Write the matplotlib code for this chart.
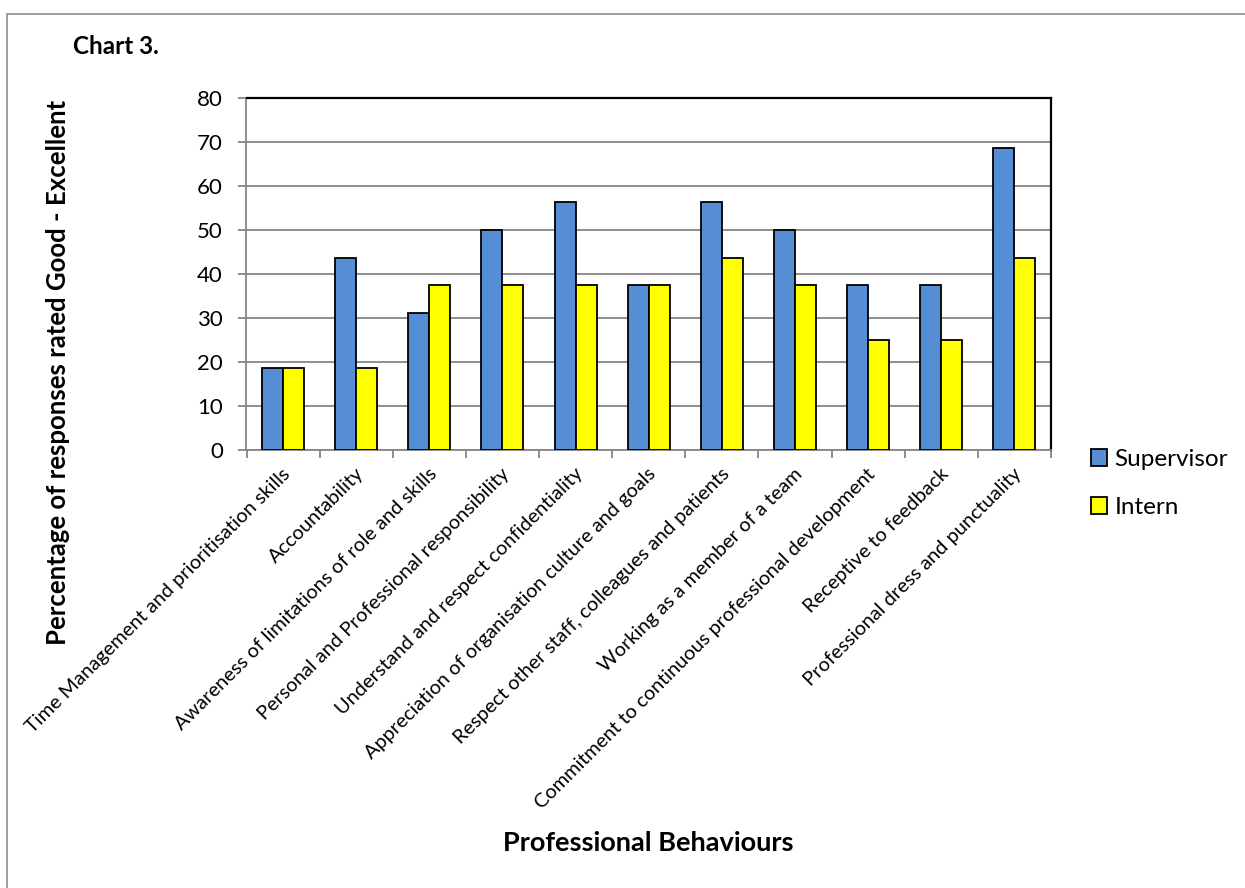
import matplotlib
matplotlib.use("Agg")
import matplotlib.pyplot as plt
import numpy as np
from matplotlib.patches import Rectangle

plt.rcParams['font.family'] = ['Lato', 'DejaVu Sans']

categories = [
    "Time Management and prioritisation skills",
    "Accountability",
    "Awareness of limitations of role and skills",
    "Personal and Professional responsibility",
    "Understand and respect confidentiality",
    "Appreciation of organisation culture and goals",
    "Respect other staff, colleagues and patients",
    "Working as a member of a team",
    "Commitment to continuous professional development",
    "Receptive to feedback",
    "Professional dress and punctuality",
]
supervisor = [18.75, 43.75, 31.25, 50, 56.25, 37.5, 56.25, 50, 37.5, 37.5, 68.75]
intern = [18.75, 18.75, 37.5, 37.5, 37.5, 37.5, 43.75, 37.5, 25, 25, 43.75]
yticks = [0, 10, 20, 30, 40, 50, 60, 70, 80]

W, H = 1245, 888
fig = plt.figure(figsize=(W / 100, H / 100), dpi=100)

# outer chart frame
fig.patches.append(Rectangle((7 / W, -0.1), 1.2, 1 - 14 / H + 0.1,
                             transform=fig.transFigure, fill=False,
                             edgecolor="#8c8c8c", linewidth=1.2))

ax = fig.add_axes([246.5 / W, 1 - 450 / H, (1051 - 246.5) / W, (450 - 98) / H])

x = np.arange(len(categories))
w = 0.287
ax.bar(x - w / 2, supervisor, w, color="#558ed5", edgecolor="black",
       linewidth=1.3, label="Supervisor", zorder=3)
ax.bar(x + w / 2, intern, w, color="#ffff00", edgecolor="black",
       linewidth=1.3, label="Intern", zorder=3)

ax.set_xlim(-0.5, len(categories) - 0.5)
ax.set_ylim(0, 80)
ax.set_yticks(yticks)
ax.set_yticklabels([str(t) for t in yticks], fontsize=16)
ax.yaxis.grid(True, color="#868686", linewidth=1.3, zorder=0)
ax.set_axisbelow(True)

ax.set_xticks(np.arange(len(categories) + 1) - 0.5)
ax.set_xticklabels([])
ax.tick_params(axis="x", length=5.5, color="#868686", width=1.3)
ax.tick_params(axis="y", length=6, color="#868686", width=1.3, pad=11)

for s in ["left", "bottom"]:
    ax.spines[s].set_color("#868686")
    ax.spines[s].set_linewidth(1.3)
for s in ["top", "right"]:
    ax.spines[s].set_color("black")
    ax.spines[s].set_linewidth(1.6)

# rotated category labels under each group
for i, c in enumerate(categories):
    ax.annotate(c, xy=(i, 0), xycoords=("data", "axes fraction"),
                xytext=(-1, -11), textcoords="offset points",
                rotation=45, ha="right", va="top", fontsize=14.4,
                rotation_mode="anchor")

fig.text(58 / W, 1 - 372 / H, "Percentage of responses rated Good - Excellent",
         rotation=90, ha="center", va="center", fontsize=18.5,
         fontweight="bold")
fig.text(648 / W, 1 - 843 / H, "Professional Behaviours", ha="center",
         va="center", fontsize=19.5, fontweight="bold")
fig.text(73 / W, 1 - 47 / H, "Chart 3.", ha="left", va="center",
         fontsize=17.5, fontweight="bold")

ax.legend(loc="upper left", bbox_to_anchor=(1091 / W, 1 - 449 / H),
          bbox_transform=fig.transFigure, frameon=False, fontsize=17.5,
          handlelength=0.66, handleheight=0.66, handletextpad=0.3,
          labelspacing=1.12, borderpad=0, borderaxespad=0)

fig.savefig("out.png", dpi=100)
